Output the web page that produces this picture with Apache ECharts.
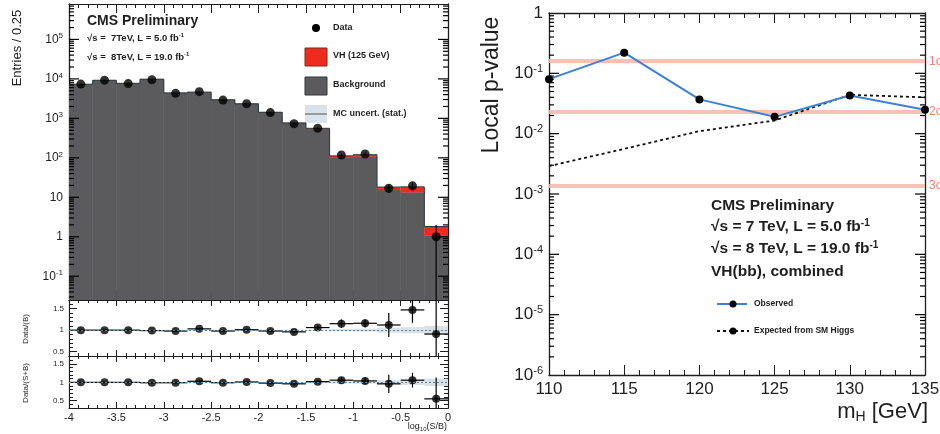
<!DOCTYPE html>
<html><head><meta charset="utf-8">
<script src="https://cdn.jsdelivr.net/npm/echarts@6/dist/echarts.min.js"></script>
<style>html,body{margin:0;padding:0;background:#fff}#c{width:940px;height:434px;background:#fff}</style>
</head><body><div id="c"></div>
<script>
// ---------- data (left: log10(S/B) distribution) ----------
const binLow = [-4,-3.75,-3.5,-3.25,-3,-2.75,-2.5,-2.25,-2,-1.75,-1.5,-1.25,-1,-0.75,-0.5,-0.25];
const binWidth = 0.25;
const background = [7300,9200,7700,9800,4400,4600,2950,2330,1420,760,540,103,108,15.2,13.3,1.1];
const vhSignal   = [0.8,1.2,1.5,3,2,3.5,3.5,4.5,4,5,20,9,12,3,5.1,0.72];
const dataCounts = [7400,9300,7600,9500,4300,4750,2900,2350,1400,730,560,118,125,17,19.5,1.0];
const dataErr    = [86,96,87,97,66,69,54,48,37,27,24,11,11,4.1,4.4,1.0];
const ratioB     = [1.0,1.0,1.0,0.99,0.98,1.03,0.98,1.01,0.98,0.96,1.06,1.15,1.16,1.12,1.47,0.91];
const ratioBErr  = [0.012,0.011,0.012,0.011,0.016,0.016,0.02,0.022,0.028,0.037,0.045,0.1,0.1,0.28,0.3,0.95];
const ratioSB    = [1.0,1.0,1.0,0.99,0.99,1.03,0.99,1.01,0.98,0.96,1.02,1.06,1.04,0.96,1.06,0.55];
const ratioSBErr = [0.012,0.011,0.012,0.011,0.016,0.016,0.02,0.022,0.028,0.037,0.045,0.09,0.09,0.25,0.2,0.58];
const mcUnc      = [0.004,0.004,0.004,0.004,0.006,0.006,0.008,0.008,0.01,0.012,0.015,0.03,0.035,0.06,0.07,0.1];
// ---------- data (right: local p-value) ----------
const massPoints = [110,115,120,125,130,135];
const pObserved  = [0.08,0.22,0.037,0.019,0.043,0.025];
const pExpected  = [0.0029,0.0056,0.011,0.0165,0.044,0.040];
const sigmaLevels = [0.1587,0.0228,0.00135];
const sigmaLabels = ['1σ','2σ','3σ'];

const FONT = '"Liberation Sans", Arial, Helvetica, sans-serif';
const INK = '#1e1e1e';
const chart = echarts.init(document.getElementById('c'));

function powLabel(v){
  const e = Math.round(Math.log10(v));
  if (e === 0) return '1';
  if (e === 1) return '10';
  return '10{sup|' + e + '}';
}
// tick positions (1..9 x 10^k) for the log axes: [xMin, value, isMajor, xMax]
function logTicks(lo, hi, xMin, xMax){
  const arr = [];
  for (let e = Math.floor(Math.log10(lo)); e <= Math.ceil(Math.log10(hi)); e++)
    for (let m = 1; m <= 9; m++){ const v = m*Math.pow(10,e); if (v >= lo*1.0001 && v <= hi*0.9999) arr.push([xMin, v, m===1?1:0, xMax]); }
  return arr;
}
function logTickRender(params, api){
  const v = api.value(1), len = api.value(2) ? 10 : 5;
  const a = api.coord([api.value(0), v]), b = api.coord([api.value(3), v]);
  return {type:'group', children:[
    {type:'line', shape:{x1:a[0], y1:a[1], x2:a[0]+len, y2:a[1]}, style:{stroke:'#000', lineWidth:1.2}},
    {type:'line', shape:{x1:b[0], y1:b[1], x2:b[0]-len, y2:b[1]}, style:{stroke:'#000', lineWidth:1.2}}
  ]};
}
function histRender(params, api){
  const cs = params.coordSys, i = params.dataIndex;
  const x0 = api.value(0), bg = api.value(1), vh = api.value(2);
  const pA = api.coord([x0, bg]), pB = api.coord([x0+binWidth, bg+vh]);
  const bottom = cs.y + cs.height, w = pB[0]-pA[0];
  const ch = [
    {type:'rect', shape:{x:pA[0], y:pA[1], width:w, height:bottom-pA[1]}, style:{fill:'#5b5b5d', stroke:'#5b5b5d', lineWidth:0.6}},
    {type:'rect', shape:{x:pA[0], y:pB[1], width:w, height:pA[1]-pB[1]}, style:{fill:'#ee2b1c'}},
    {type:'line', shape:{x1:pA[0], y1:pB[1], x2:pB[0], y2:pB[1]}, style:{stroke:'#2f3a3e', lineWidth:1}}
  ];
  if (i > 0){
    const prevTop = api.coord([x0, background[i-1]+vhSignal[i-1]])[1];
    ch.push({type:'line', shape:{x1:pA[0], y1:prevTop, x2:pA[0], y2:pB[1]}, style:{stroke:'#2f3a3e', lineWidth:1}});
  }
  return {type:'group', children:ch};
}
function errRender(withX){
  return function(params, api){
    const x = api.value(0), v = api.value(1), e = api.value(2);
    const lo = Math.max(v - e, 1e-4);
    const p1 = api.coord([x, v+e]), p2 = api.coord([x, lo]);
    const ch = [{type:'line', shape:{x1:p1[0], y1:p1[1], x2:p2[0], y2:p2[1]}, style:{stroke:'#000', lineWidth:1.2}}];
    if (withX){
      const a = api.coord([x-binWidth/2, v]), b = api.coord([x+binWidth/2, v]);
      ch.push({type:'line', shape:{x1:a[0], y1:a[1], x2:b[0], y2:b[1]}, style:{stroke:'#000', lineWidth:1.2}});
    }
    return {type:'group', children:ch};
  };
}
function bandRender(params, api){
  const x = api.value(0), u = api.value(1);
  const a = api.coord([x, 1+u]), b = api.coord([x+binWidth, 1-u]);
  return {type:'rect', shape:{x:a[0], y:a[1], width:b[0]-a[0], height:Math.max(b[1]-a[1],1)}, style:{fill:'#d9e1e8'}};
}

const gridBoxes = [
  {left:69, top:4, width:379, height:296},
  {left:69, top:300, width:379, height:56},
  {left:69, top:356, width:379, height:52},
  {left:549, top:13, width:376, height:362}
];
const grids = gridBoxes.map(g => Object.assign({show:false, containLabel:false, outerBoundsMode:'none'}, g));

function xAx(gridIndex, position, showLabel, major, minor){
  return {type:'value', gridIndex, position, min:-4, max:0, interval:0.5,
    axisLine:{show:true, onZero:false, lineStyle:{color:INK, width:1.2}},
    axisTick:{show:true, inside:true, length:major, lineStyle:{color:INK, width:1}},
    minorTick:{show:true, splitNumber:5, length:minor, lineStyle:{color:INK, width:1}},
    splitLine:{show:false}, minorSplitLine:{show:false},
    axisLabel:{show:showLabel, fontFamily:FONT, fontSize:11, color:INK, margin:4}};
}
function xAxR(position, showLabel){
  return {type:'value', gridIndex:3, position, min:110, max:135, interval:5,
    axisLine:{show:true, onZero:false, lineStyle:{color:INK, width:1.4}},
    axisTick:{show:true, inside:true, length:10, lineStyle:{color:INK, width:1}},
    minorTick:{show:true, splitNumber:5, length:5, lineStyle:{color:INK, width:1}},
    splitLine:{show:false}, minorSplitLine:{show:false},
    axisLabel:{show:showLabel, fontFamily:FONT, fontSize:17, color:INK, margin:6}};
}
function yLog(gridIndex, position, min, max, showLabel, fs, sfs){
  return {type:'log', logBase:10, gridIndex, position, min, max,
    axisLine:{show:true, onZero:false, lineStyle:{color:INK, width:1.3}},
    axisTick:{show:false},
    splitLine:{show:false},
    axisLabel:{show:showLabel, showMinLabel:false, showMaxLabel:false, fontFamily:FONT, fontSize:fs, color:INK, margin:6,
      formatter:powLabel, rich:{sup:{fontFamily:FONT, fontSize:sfs, color:INK, verticalAlign:'top', padding:[0,0,sfs*0.8,0]}}}};
}
function yRatio(gridIndex, position, min, max, showLabel){
  return {type:'value', gridIndex, position, min, max, splitNumber:3,
    axisLine:{show:true, onZero:false, lineStyle:{color:INK, width:1.2}},
    axisTick:{show:true, inside:true, length:8, lineStyle:{color:INK, width:1}},
    minorTick:{show:true, splitNumber:5, length:4, lineStyle:{color:INK, width:1}},
    splitLine:{show:false}, minorSplitLine:{show:false},
    axisLabel:{show:showLabel, showMinLabel:false, showMaxLabel:false, fontFamily:FONT, fontSize:8, color:INK, margin:5}};
}

const yR0 = yLog(3, 'left', 1e-6, 1, true, 17, 11);
yR0.axisLabel.showMinLabel = true; yR0.axisLabel.showMaxLabel = true;

const supRich = (f, pad) => ({sup:{font:f, fill:INK, verticalAlign:'top', padding:[0,0,pad,0]}});
const baseGraphic = [
  {type:'text', x:17, y:48, rotation:Math.PI/2, style:{text:'Entries / 0.25', font:'13px '+FONT, fill:INK, align:'center', verticalAlign:'middle'}},
  {type:'text', x:26, y:329, rotation:Math.PI/2, style:{text:'Data/(B)', font:'8px '+FONT, fill:INK, align:'center', verticalAlign:'middle'}},
  {type:'text', x:26, y:383, rotation:Math.PI/2, style:{text:'Data/(S+B)', font:'8px '+FONT, fill:INK, align:'center', verticalAlign:'middle'}},
  {type:'text', x:447, y:427, style:{text:'log{sub|10}(S/B)', font:'9px '+FONT, fill:INK, align:'right', verticalAlign:'middle',
    rich:{sub:{font:'6px '+FONT, fill:INK, verticalAlign:'bottom', padding:[5,0,0,0]}}}},
  {type:'text', x:87, y:21, style:{text:'CMS Preliminary', font:'bold 14px '+FONT, fill:INK, align:'left', verticalAlign:'middle'}},
  {type:'text', x:87, y:38, style:{text:'√s =  7TeV, L = 5.0 fb{sup|-1}', font:'bold 9.5px '+FONT, fill:INK, align:'left', verticalAlign:'middle',
    rich:supRich('bold 6px '+FONT, 5)}},
  {type:'text', x:87, y:57, style:{text:'√s =  8TeV, L = 19.0 fb{sup|-1}', font:'bold 9.5px '+FONT, fill:INK, align:'left', verticalAlign:'middle',
    rich:supRich('bold 6px '+FONT, 5)}},
  {type:'circle', shape:{cx:316, cy:28, r:4}, style:{fill:'#000'}},
  {type:'text', x:333, y:28, style:{text:'Data', font:'bold 9px '+FONT, fill:INK, verticalAlign:'middle'}},
  {type:'rect', shape:{x:305, y:48, width:22, height:18}, style:{fill:'#ee2b1c', stroke:'#7a2a20', lineWidth:1}},
  {type:'text', x:333, y:56, style:{text:'VH (125 GeV)', font:'bold 9px '+FONT, fill:INK, verticalAlign:'middle'}},
  {type:'rect', shape:{x:305, y:77, width:22, height:18}, style:{fill:'#5b5b5d', stroke:'#2f3a3e', lineWidth:1}},
  {type:'text', x:333, y:85, style:{text:'Background', font:'bold 9px '+FONT, fill:INK, verticalAlign:'middle'}},
  {type:'rect', shape:{x:305, y:105, width:22, height:18}, style:{fill:'#dae3ec'}},
  {type:'line', shape:{x1:305, y1:114, x2:327, y2:114}, style:{stroke:'#555', lineWidth:1}},
  {type:'text', x:333, y:114, style:{text:'MC uncert. (stat.)', font:'bold 9px '+FONT, fill:INK, verticalAlign:'middle'}},
  {type:'text', x:492, y:85, rotation:Math.PI/2, style:{text:'Local p-value', font:'23px '+FONT, fill:INK, align:'center', verticalAlign:'middle'}},
  {type:'text', x:928, y:412, style:{text:'m{sub|H} [GeV]', font:'22px '+FONT, fill:INK, align:'right', verticalAlign:'middle',
    rich:{sub:{font:'14px '+FONT, fill:INK, verticalAlign:'bottom', padding:[10,0,0,0]}}}},
  {type:'text', x:711, y:206, style:{text:'CMS Preliminary', font:'bold 15.5px '+FONT, fill:INK, verticalAlign:'middle'}},
  {type:'text', x:711, y:227, style:{text:'√s = 7 TeV, L = 5.0 fb{sup|-1}', font:'bold 15.5px '+FONT, fill:INK, verticalAlign:'middle',
    rich:supRich('bold 10px '+FONT, 8)}},
  {type:'text', x:711, y:249, style:{text:'√s = 8 TeV, L = 19.0 fb{sup|-1}', font:'bold 15.5px '+FONT, fill:INK, verticalAlign:'middle',
    rich:supRich('bold 10px '+FONT, 8)}},
  {type:'text', x:711, y:272, style:{text:'VH(bb), combined', font:'bold 15.5px '+FONT, fill:INK, verticalAlign:'middle'}},
  {type:'line', shape:{x1:717, y1:304, x2:747, y2:304}, style:{stroke:'#3d80d8', lineWidth:2}},
  {type:'circle', shape:{cx:733, cy:304, r:3.5}, style:{fill:'#000'}},
  {type:'text', x:754, y:304, style:{text:'Observed', font:'bold 8.5px '+FONT, fill:INK, verticalAlign:'middle'}},
  {type:'line', shape:{x1:717, y1:331, x2:749, y2:331}, style:{stroke:'#111', lineWidth:1.8, lineDash:[3,3]}},
  {type:'circle', shape:{cx:733, cy:331, r:3.5}, style:{fill:'#000'}},
  {type:'text', x:754, y:331, style:{text:'Expected from SM Higgs', font:'bold 8.5px '+FONT, fill:INK, verticalAlign:'middle'}}
];

const option = {
  animation:false,
  grid: grids,
  xAxis:[
    xAx(0,'bottom',false,9,4), xAx(0,'top',false,9,4),
    xAx(1,'bottom',false,6,3), xAx(1,'top',false,6,3),
    xAx(2,'bottom',true,6,3), xAx(2,'top',false,6,3),
    xAxR('bottom',true), xAxR('top',false)
  ],
  yAxis:[
    yLog(0,'left',0.025,7.9e5,true,12,8), yLog(0,'right',0.025,7.9e5,false,12,8),
    yRatio(1,'left',0.4,1.7,true), yRatio(1,'right',0.4,1.7,false),
    yRatio(2,'left',0.3,1.72,true), yRatio(2,'right',0.3,1.72,false),
    yR0, yLog(3,'right',1e-6,1,false,17,11)
  ],
  series:[
    {type:'custom', name:'hist', xAxisIndex:0, yAxisIndex:0, z:2, clip:true, silent:true,
      data: binLow.map((x,i)=>[x, background[i], vhSignal[i]]), renderItem:histRender},
    {type:'custom', name:'err0', xAxisIndex:0, yAxisIndex:0, z:3, clip:true, silent:true,
      data: binLow.map((x,i)=>[x+binWidth/2, dataCounts[i], dataErr[i]]), renderItem:errRender(false)},
    {type:'custom', name:'logTicksL', xAxisIndex:0, yAxisIndex:0, z:3, clip:true, silent:true,
      data: logTicks(0.025, 7.9e5, -4, 0), renderItem:logTickRender},
    {type:'scatter', name:'Data', xAxisIndex:0, yAxisIndex:0, z:4, symbolSize:9, itemStyle:{color:'#000'},
      data: binLow.map((x,i)=>[x+binWidth/2, dataCounts[i]])},
    {type:'custom', xAxisIndex:2, yAxisIndex:2, z:2, clip:true, silent:true,
      data: binLow.map((x,i)=>[x, mcUnc[i]]), renderItem:bandRender},
    {type:'custom', xAxisIndex:2, yAxisIndex:2, z:3, clip:true, silent:true,
      data: binLow.map((x,i)=>[x+binWidth/2, ratioB[i], ratioBErr[i]]), renderItem:errRender(true)},
    {type:'scatter', xAxisIndex:2, yAxisIndex:2, z:4, symbolSize:8, itemStyle:{color:'#000'},
      data: binLow.map((x,i)=>[x+binWidth/2, ratioB[i]]),
      markLine:{silent:true, symbol:'none', label:{show:false}, lineStyle:{color:'#5a84a4', type:[2,2], width:1.2}, data:[{yAxis:1}]}},
    {type:'custom', xAxisIndex:4, yAxisIndex:4, z:2, clip:true, silent:true,
      data: binLow.map((x,i)=>[x, mcUnc[i]]), renderItem:bandRender},
    {type:'custom', xAxisIndex:4, yAxisIndex:4, z:3, clip:true, silent:true,
      data: binLow.map((x,i)=>[x+binWidth/2, ratioSB[i], ratioSBErr[i]]), renderItem:errRender(true)},
    {type:'scatter', xAxisIndex:4, yAxisIndex:4, z:4, symbolSize:8, itemStyle:{color:'#000'},
      data: binLow.map((x,i)=>[x+binWidth/2, ratioSB[i]]),
      markLine:{silent:true, symbol:'none', label:{show:false}, lineStyle:{color:'#5a84a4', type:[2,2], width:1.2}, data:[{yAxis:1}]}},
    {type:'custom', name:'logTicksR', xAxisIndex:6, yAxisIndex:6, z:3, clip:true, silent:true,
      data: logTicks(1e-6, 1, 110, 135), renderItem:logTickRender},
    {type:'line', name:'Expected from SM Higgs', xAxisIndex:6, yAxisIndex:6, z:3, symbol:'none',
      lineStyle:{color:'#111', width:1.8, type:[3,3]},
      data: massPoints.map((m,i)=>[m, pExpected[i]]),
      markLine:{silent:true, symbol:'none', precision:8, z:1,
        lineStyle:{color:'#f9b6a8', width:4, type:'solid', opacity:0.85},
        label:{show:true, position:'end', distance:4, color:'#ee6a55', fontFamily:FONT, fontSize:12, formatter:p=>p.name},
        data: sigmaLevels.map((s,i)=>({yAxis:s, name:sigmaLabels[i]}))}},
    {type:'line', name:'Observed', xAxisIndex:6, yAxisIndex:6, z:4, symbol:'circle', symbolSize:8,
      lineStyle:{color:'#3d80d8', width:2}, itemStyle:{color:'#000'},
      data: massPoints.map((m,i)=>[m, pObserved[i]])}
  ],
  graphic: baseGraphic
};
chart.setOption(option);
</script></body></html>
